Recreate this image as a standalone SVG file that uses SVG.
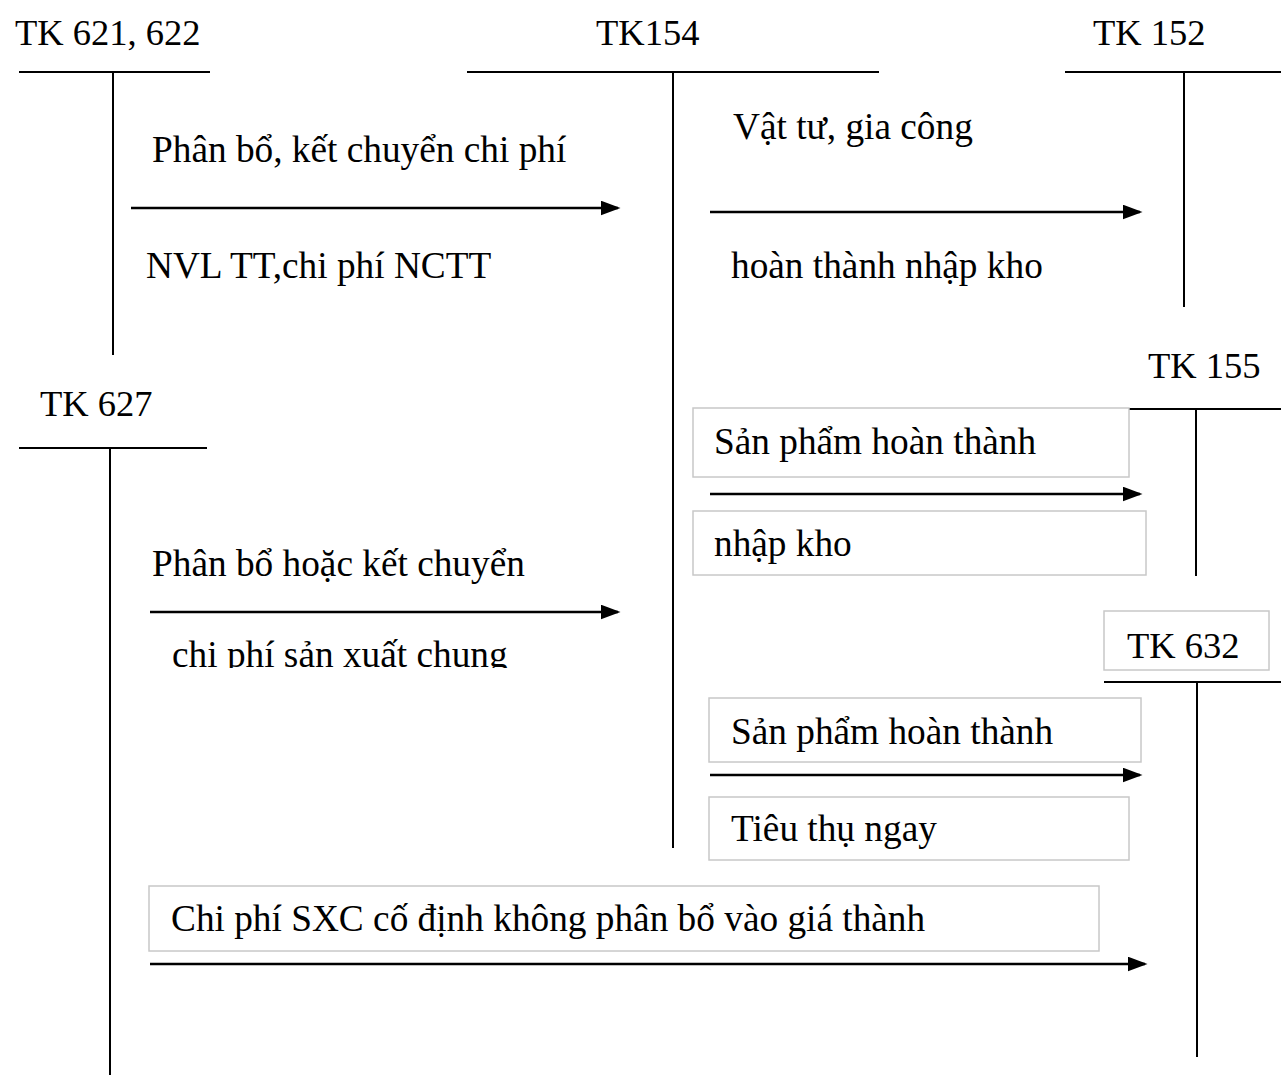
<svg xmlns="http://www.w3.org/2000/svg" width="1281" height="1075" viewBox="0 0 1281 1075">
<style>
text{font-family:"Liberation Serif","Times New Roman",serif;font-size:37.3px;fill:#000}
text.h{font-size:36.5px}
.t{stroke:#000;stroke-width:2;fill:none}
.a{stroke:#000;stroke-width:2.5;fill:none}
.b{fill:#fff;stroke:#c8c8c8;stroke-width:1.5}
</style>
<defs>
<marker id="ah" markerWidth="8" markerHeight="6" refX="7" refY="3" orient="auto" markerUnits="strokeWidth">
<path d="M0,0 L8,3 L0,6 Z" fill="#000"/>
</marker>
<clipPath id="cl"><rect x="0" y="620" width="640" height="48"/></clipPath>
</defs>
<rect width="1281" height="1075" fill="#fff"/>
<g id="tk621">
<text class="h" x="15" y="45">TK 621, 622</text>
<line class="t" x1="19" y1="72" x2="210" y2="72"/>
<line class="t" x1="113" y1="72" x2="113" y2="355"/>
</g>
<g id="tk154">
<text class="h" x="596" y="45">TK154</text>
<line class="t" x1="467" y1="72" x2="879" y2="72"/>
<line class="t" x1="673" y1="72" x2="673" y2="848"/>
</g>
<g id="tk152">
<text class="h" x="1093" y="45">TK 152</text>
<line class="t" x1="1065" y1="72" x2="1281" y2="72"/>
<line class="t" x1="1184" y1="72" x2="1184" y2="307"/>
</g>
<g id="tk155">
<text class="h" x="1148" y="378">TK 155</text>
<line class="t" x1="1128" y1="409" x2="1281" y2="409"/>
<line class="t" x1="1196" y1="409" x2="1196" y2="576"/>
</g>
<g id="tk627">
<text class="h" x="40" y="416">TK 627</text>
<line class="t" x1="19" y1="448" x2="207" y2="448"/>
<line class="t" x1="110" y1="448" x2="110" y2="1075"/>
</g>
<g id="tk632">
<rect class="b" x="1104" y="611" width="165" height="59"/>
<text class="h" x="1127" y="658">TK 632</text>
<line class="t" x1="1104" y1="682" x2="1281" y2="682"/>
<line class="t" x1="1197" y1="682" x2="1197" y2="1057"/>
</g>
<g id="labels">
<text x="152" y="162">Phân bổ, kết chuyển chi phí</text>
<text x="146" y="278">NVL TT,chi phí NCTT</text>
<text x="733" y="139">Vật tư, gia công</text>
<text x="731" y="278">hoàn thành nhập kho</text>
<rect class="b" x="693" y="408" width="436" height="69"/>
<text x="714" y="454">Sản phẩm hoàn thành</text>
<rect class="b" x="693" y="511" width="453" height="64"/>
<text x="714" y="556">nhập kho</text>
<text x="152" y="576">Phân bổ hoặc kết chuyển</text>
<text x="172" y="667" clip-path="url(#cl)">chi phí sản xuất chung</text>
<rect class="b" x="709" y="698" width="432" height="64"/>
<text x="731" y="744">Sản phẩm hoàn thành</text>
<rect class="b" x="709" y="797" width="420" height="63"/>
<text x="731" y="841">Tiêu thụ ngay</text>
<rect class="b" x="149" y="886" width="950" height="65"/>
<text x="171" y="931">Chi phí SXC cố định không phân bổ vào giá thành</text>
</g>
<g id="connectors">
<line class="a" x1="131" y1="208" x2="618" y2="208" marker-end="url(#ah)"/>
<line class="a" x1="710" y1="212" x2="1140" y2="212" marker-end="url(#ah)"/>
<line class="a" x1="710" y1="494" x2="1140" y2="494" marker-end="url(#ah)"/>
<line class="a" x1="150" y1="612" x2="618" y2="612" marker-end="url(#ah)"/>
<line class="a" x1="710" y1="775" x2="1140" y2="775" marker-end="url(#ah)"/>
<line class="a" x1="150" y1="964" x2="1145" y2="964" marker-end="url(#ah)"/>
</g>
</svg>
